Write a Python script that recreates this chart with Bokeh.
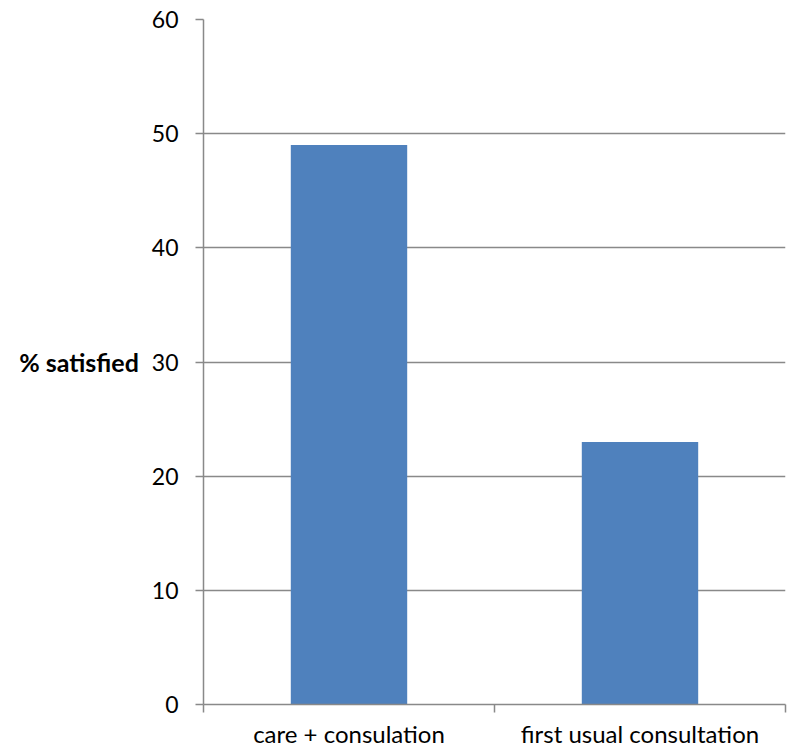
from bokeh.plotting import figure
from bokeh.models import Range1d, FixedTicker, ColumnDataSource
from bokeh.embed import file_html
from bokeh.resources import INLINE

categories = ["care + consulation", "first usual consultation"]
values = [49, 23]
y_ticks = [0, 10, 20, 30, 40, 50, 60]
y_label = "% satisfied"

FONT = "Lato"
GREY = "#898989"

xs = [i + 0.5 for i in range(len(categories))]
src = ColumnDataSource(dict(x=xs, top=values, cat=categories))

p = figure(width=792, height=750, output_backend="svg", toolbar_location=None,
           x_range=Range1d(0, len(categories)), y_range=Range1d(y_ticks[0], y_ticks[-1]),
           min_border_left=203, min_border_right=7, min_border_top=19, min_border_bottom=46)
p.outline_line_color = None
p.background_fill_color = "white"
p.border_fill_color = "white"

p.vbar(x="x", top="top", width=0.4, bottom=0, source=src,
       fill_color="#4F81BD", line_color=None)

# y axis
p.yaxis.ticker = FixedTicker(ticks=y_ticks)
p.yaxis.axis_line_color = GREY
p.yaxis.axis_line_width = 1.5
p.yaxis.major_tick_line_color = GREY
p.yaxis.major_tick_line_width = 1.5
p.yaxis.major_tick_out = 8
p.yaxis.major_tick_in = 0
p.yaxis.minor_tick_line_color = None
p.yaxis.major_label_text_font = FONT
p.yaxis.major_label_text_font_size = "23px"
p.yaxis.major_label_text_color = "black"
p.yaxis.major_label_standoff = 17
p.yaxis.axis_label = y_label
p.yaxis.axis_label_orientation = "horizontal"
p.yaxis.axis_label_text_font = FONT
p.yaxis.axis_label_text_font_style = "bold"
p.yaxis.axis_label_text_font_size = "25px"
p.yaxis.axis_label_text_color = "black"
p.yaxis.axis_label_standoff = 10

# x axis: labels at category centres, ticks at category boundaries
p.xaxis.ticker = FixedTicker(ticks=xs, minor_ticks=list(range(len(categories) + 1)))
p.xaxis.major_label_overrides = {x: c for x, c in zip(xs, categories)}
p.xaxis.axis_line_color = GREY
p.xaxis.axis_line_width = 1.5
p.xaxis.major_tick_line_color = None
p.xaxis.major_tick_out = 0
p.xaxis.major_tick_in = 0
p.xaxis.minor_tick_line_color = GREY
p.xaxis.minor_tick_line_width = 1.5
p.xaxis.minor_tick_out = 8
p.xaxis.minor_tick_in = 0
p.xaxis.major_label_text_font = FONT
p.xaxis.major_label_text_font_size = "24px"
p.xaxis.major_label_text_color = "black"
p.xaxis.major_label_standoff = 6

p.xgrid.grid_line_color = None
p.ygrid.ticker = FixedTicker(ticks=y_ticks)
p.ygrid.grid_line_color = GREY
p.ygrid.grid_line_width = 1.5

open("out.html", "w").write(file_html(p, INLINE))
